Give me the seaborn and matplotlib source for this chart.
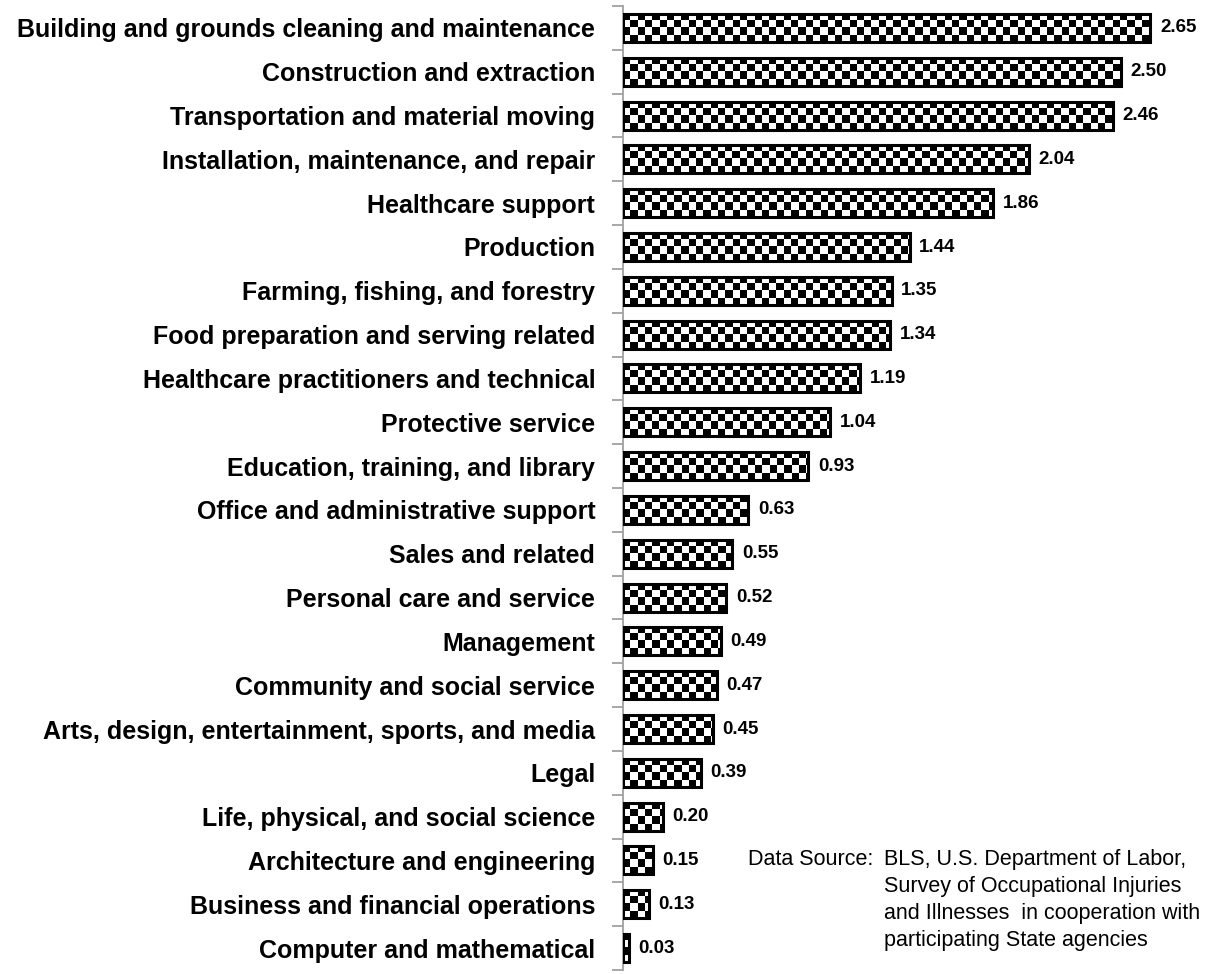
import numpy as np
import pandas as pd
import matplotlib
matplotlib.use("Agg")
import matplotlib.pyplot as plt
import seaborn as sns
from matplotlib import font_manager

categories = [
    "Building and grounds cleaning and maintenance",
    "Construction and extraction",
    "Transportation and material moving",
    "Installation, maintenance, and repair",
    "Healthcare support",
    "Production",
    "Farming, fishing, and forestry",
    "Food preparation and serving related",
    "Healthcare practitioners and technical",
    "Protective service",
    "Education, training, and library",
    "Office and administrative support",
    "Sales and related",
    "Personal care and service",
    "Management",
    "Community and social service",
    "Arts, design, entertainment, sports, and media",
    "Legal",
    "Life, physical, and social science",
    "Architecture and engineering",
    "Business and financial operations",
    "Computer and mathematical",
]
values = [2.65, 2.50, 2.46, 2.04, 1.86, 1.44, 1.35, 1.34, 1.19, 1.04, 0.93,
          0.63, 0.55, 0.52, 0.49, 0.47, 0.45, 0.39, 0.20, 0.15, 0.13, 0.03]
source_lines = ["BLS, U.S. Department of Labor,",
                "Survey of Occupational Injuries",
                "and Illnesses  in cooperation with",
                "participating State agencies"]

sns.set_theme(style="white")
available = {f.name for f in font_manager.fontManager.ttflist}
fam = [f for f in ["Liberation Sans Narrow", "Liberation Sans", "DejaVu Sans"] if f in available]
plt.rcParams["font.family"] = fam
plt.rcParams["text.color"] = "black"
plt.rcParams["ytick.color"] = "black"

df = pd.DataFrame({"category": categories, "value": values})

W, H = 1210, 974
fig = plt.figure(figsize=(W / 100, H / 100), dpi=100)
ax_left, ax_top, ax_bot = 623, 6, 970
ax = fig.add_axes([ax_left / W, (H - ax_bot) / H, (W - ax_left) / W, (ax_bot - ax_top) / H])

sns.barplot(data=df, x="value", y="category", orient="h", color="white",
            edgecolor="black", linewidth=2.2, width=0.64, ax=ax)

n = len(categories)
px_per_unit = 199.0
xmax = (W - ax_left) / px_per_unit

# checkerboard fill clipped to each bar
cell_px = 7.3
ncols = int((W - ax_left) / cell_px) + 1
nrows = int((ax_bot - ax_top) / cell_px) + 1
ii, jj = np.indices((nrows, ncols))
board = ((ii + jj) % 2).astype(float)
ext_x = ncols * cell_px / px_per_unit
ext_y = nrows * cell_px / ((ax_bot - ax_top) / n)
for p in list(ax.patches):
    im = ax.imshow(board, cmap="gray_r", vmin=0, vmax=1, interpolation="nearest",
                   extent=[0, ext_x, -0.5 + ext_y, -0.5], aspect="auto", zorder=3)
    im.set_clip_path(p)
    p.set_facecolor("none")
    p.set_zorder(4)
ax.set_xlim(0, xmax)
ax.set_ylim(n - 0.5, -0.5)

# value labels
for c in ax.containers:
    ax.bar_label(c, fmt="%.2f", padding=7, fontsize=13.5, fontweight="bold", color="black")

ax.set_xlabel("")
ax.set_ylabel("")
ax.set_xticks([])
for s in ["top", "right", "bottom"]:
    ax.spines[s].set_visible(False)
ax.spines["left"].set_color("#a0a0a0")
ax.spines["left"].set_linewidth(1.3)

ax.set_yticks(range(n))
ax.set_yticklabels(categories, fontsize=18, fontweight="bold", color="black")
ax.tick_params(axis="y", which="major", length=0, pad=20)
ax.set_yticks(np.arange(-0.5, n, 1.0), minor=True)
ax.tick_params(axis="y", which="minor", length=8, width=1.3, color="#a0a0a0", left=True)

fig.text(748 / W, 1 - 849 / H, "Data Source:", fontsize=15.5, va="top", ha="left")
fig.text(884 / W, 1 - 849 / H, "\n".join(source_lines), fontsize=15.5, va="top",
         ha="left", linespacing=1.38)

fig.savefig("out.png", dpi=100)
